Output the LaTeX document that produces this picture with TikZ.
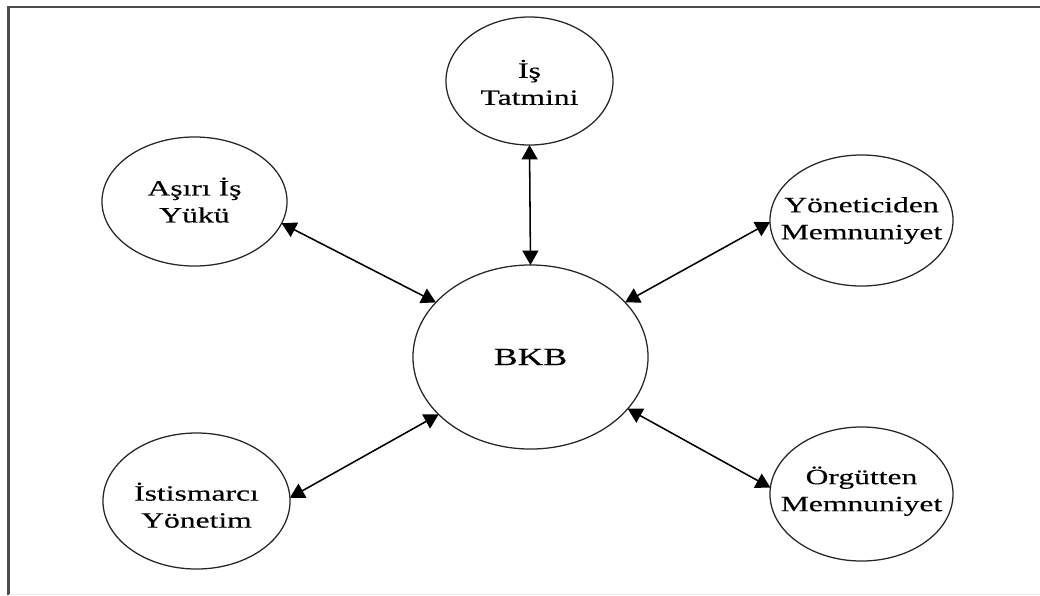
\documentclass[tikz,border=0pt]{standalone}
\usepackage{fontspec}
\usetikzlibrary{shapes.geometric,arrows.meta}
\newfontfamily\diagfont[FakeStretch=1.45,FakeBold=0.3]{Liberation Serif}
\begin{document}
\begin{tikzpicture}[x=0.025cm,y=-0.025cm,
  bubble/.style={ellipse,draw=black!85,line width=0.9pt,outer sep=0pt,inner sep=0pt},
  txt/.style={align=center,inner sep=0pt,font=\diagfont\fontsize{15.5}{19.2}\selectfont},
  link/.style={draw=black,line width=1.1pt,{Triangle[length=3.6mm,width=4mm]}-{Triangle[length=3.6mm,width=4mm]}}]
\useasboundingbox (0,0) rectangle (1040,595);
% frame
\draw[line width=1.5pt,black!70] (8.5,595) -- (8.5,7) -- (1040,7);
\draw[line width=0.6pt,black!8] (8.5,594) -- (1040,594);
% nodes
\node[bubble,minimum width=5.875cm,minimum height=4.6cm,
  label={[txt,font=\diagfont\fontsize{17.5}{20}\selectfont]center:BKB}] (bkb) at (530.5,357) {};
\node[bubble,minimum width=4.175cm,minimum height=3.2cm,
  label={[txt,yshift=-1pt]center:İş\\Tatmini}] (tat) at (529.5,81) {};
\node[bubble,minimum width=4.625cm,minimum height=3.225cm,
  label={[txt,yshift=1pt]center:Aşırı İş\\Yükü}] (asiri) at (194.5,201.5) {};
\node[bubble,minimum width=4.575cm,minimum height=3.275cm,
  label={[txt]center:Yöneticiden\\Memnuniyet}] (yon) at (861.5,220.5) {};
\node[bubble,minimum width=4.575cm,minimum height=3.35cm,
  label={[txt,yshift=2pt]center:Örgütten\\Memnuniyet}] (org) at (861.5,494) {};
\node[bubble,minimum width=4.675cm,minimum height=3.4cm,
  label={[txt,yshift=-3pt]center:İstismarcı\\Yönetim}] (ist) at (196.5,501) {};
% connectors
\draw[link] (tat.south) -- (bkb.north);
\draw[link] (asiri.-14) -- (bkb.150.3);
\draw[link] (yon.181.5) -- (bkb.30.3);
\draw[link] (org.176) -- (bkb.-28.8);
\draw[link] (ist.2.5) -- (bkb.212.2);
\end{tikzpicture}
\end{document}
